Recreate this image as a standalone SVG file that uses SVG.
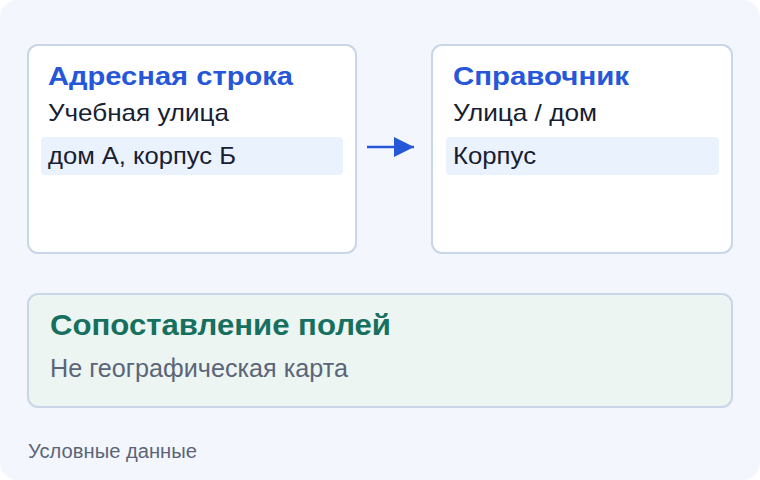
<svg xmlns="http://www.w3.org/2000/svg" width="760" height="480" viewBox="0 0 760 480">
<style>
.card{fill:#ffffff;stroke:#c8d6e8;stroke-width:2}
.row{fill:#eaf2fd}
.title{font-family:"Liberation Sans",Arial,sans-serif;font-weight:bold;font-size:26px;fill:#2657d9}
.body{font-family:"Liberation Sans",Arial,sans-serif;font-size:24px;fill:#172033}
.ptitle{font-family:"Liberation Sans",Arial,sans-serif;font-weight:bold;font-size:30px;fill:#17705f}
.psub{font-family:"Liberation Sans",Arial,sans-serif;font-size:25px;fill:#5b6577}
.note{font-family:"Liberation Sans",Arial,sans-serif;font-size:20px;fill:#5b6577}
</style>
<defs>
<marker id="ah" markerWidth="20" markerHeight="20" refX="20" refY="10" orient="auto" markerUnits="userSpaceOnUse" viewBox="0 0 20 20">
<path d="M0,0 L20,10 L0,20 Z" fill="#2657d9"/>
</marker>
</defs>
<rect x="0" y="0" width="760" height="480" rx="18" fill="#f3f6fd"/>
<g id="address">
<rect class="card" x="28" y="45" width="328" height="208" rx="10"/>
<rect class="row" x="41" y="137" width="302" height="38" rx="4"/>
<text class="title" x="48" y="85" textLength="245" lengthAdjust="spacingAndGlyphs">Адресная строка</text>
<text class="body" x="48" y="121" textLength="181" lengthAdjust="spacingAndGlyphs">Учебная улица</text>
<text class="body" x="48" y="164" textLength="188" lengthAdjust="spacingAndGlyphs">дом А, корпус Б</text>
</g>
<g id="directory">
<rect class="card" x="432" y="45" width="300" height="208" rx="10"/>
<rect class="row" x="446" y="137" width="273" height="38" rx="4"/>
<text class="title" x="453" y="85" textLength="176" lengthAdjust="spacingAndGlyphs">Справочник</text>
<text class="body" x="453" y="121" textLength="144" lengthAdjust="spacingAndGlyphs">Улица / дом</text>
<text class="body" x="453" y="164" textLength="83" lengthAdjust="spacingAndGlyphs">Корпус</text>
</g>
<g id="connectors">
<line x1="367" y1="147" x2="414" y2="147" stroke="#2657d9" stroke-width="2.5" marker-end="url(#ah)"/>
</g>
<g id="panel">
<rect x="28" y="294" width="704" height="113" rx="10" fill="#ecf5f2" stroke="#c8d6e8" stroke-width="2"/>
<text class="ptitle" x="50" y="335" textLength="341" lengthAdjust="spacingAndGlyphs">Сопоставление полей</text>
<text class="psub" x="50" y="377" textLength="298" lengthAdjust="spacingAndGlyphs">Не географическая карта</text>
</g>
<text class="note" x="28" y="458" textLength="169" lengthAdjust="spacingAndGlyphs">Условные данные</text>
</svg>
